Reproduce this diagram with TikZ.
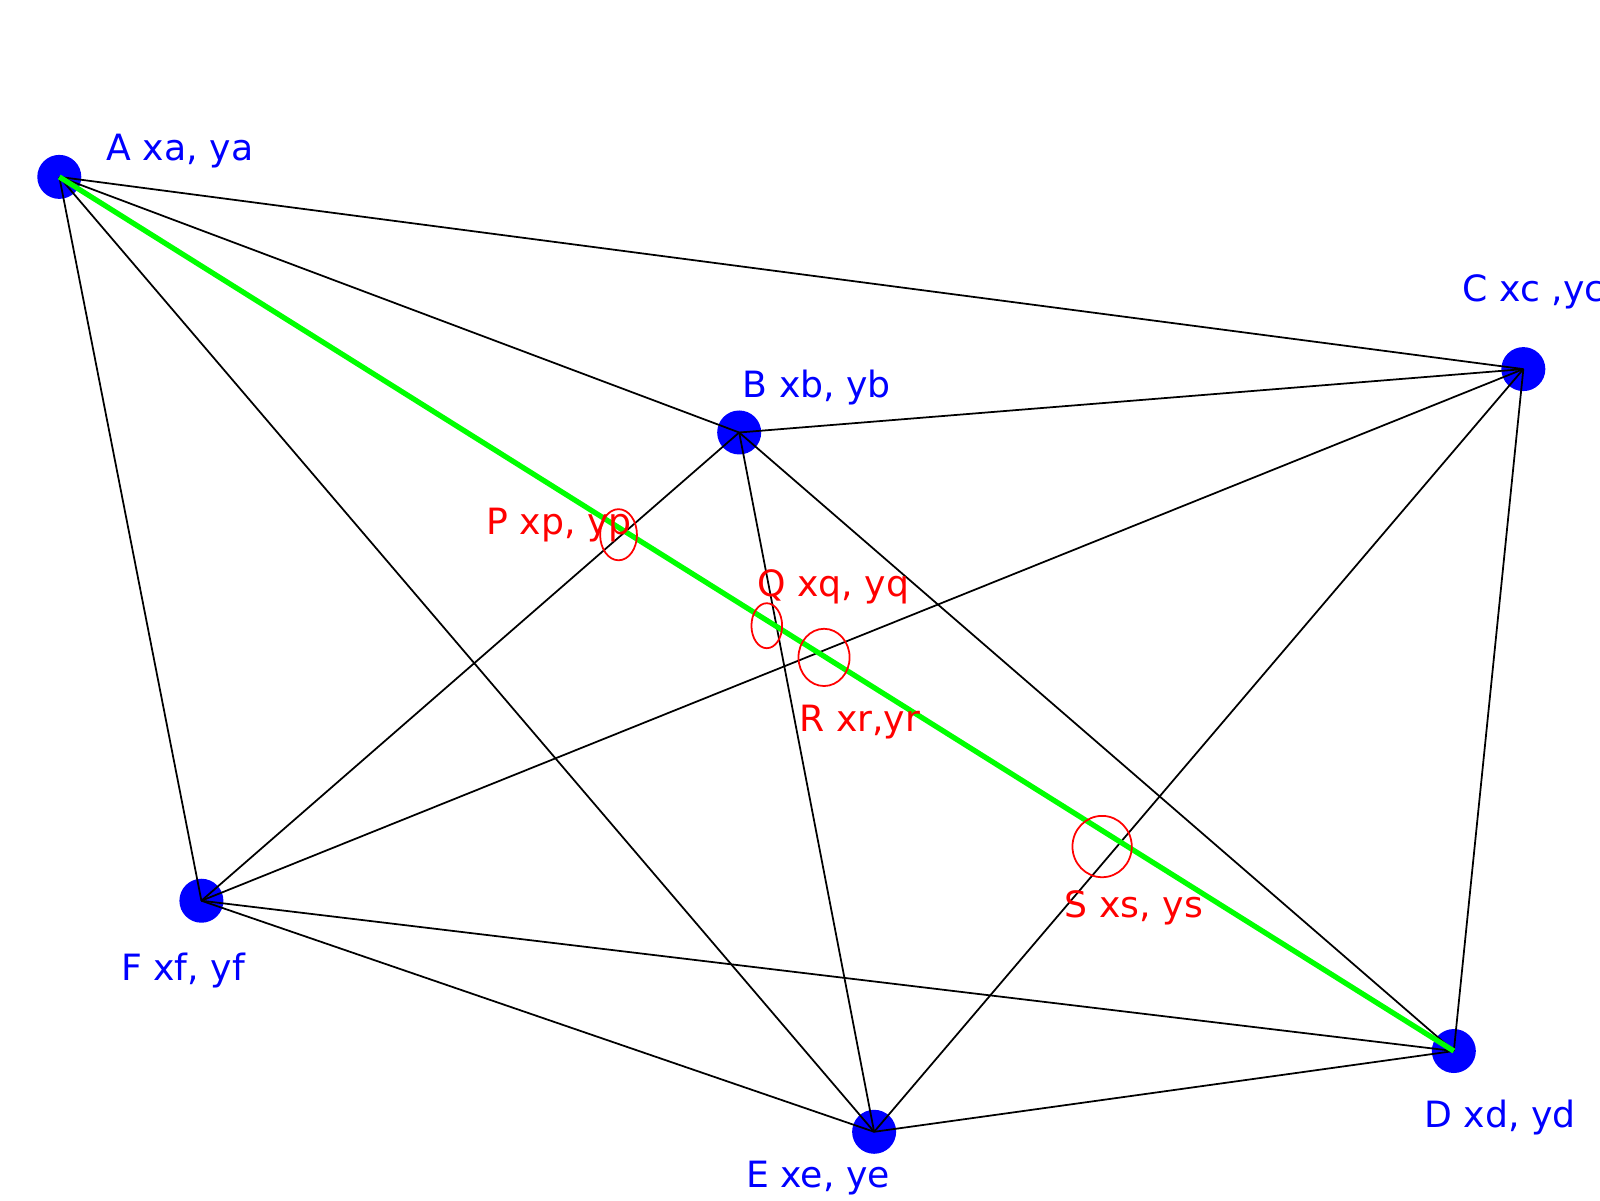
\documentclass[tikz,border=0pt]{standalone}
\usepackage{fontspec}
\setmainfont{DejaVu Sans}
\begin{document}
\begin{tikzpicture}[x=0.010224cm,y=-0.010224cm,
  pt/.style={circle,fill=blue,inner sep=0pt,minimum size=0.44cm},
  edge/.style={black,line width=0.5pt},
  lb/.style={text=blue,font=\fontsize{10.3}{12}\selectfont},
  rl/.style={text=red,font=\fontsize{10.3}{12}\selectfont},
  scr/.style={red,line width=0.5pt}]
\useasboundingbox (0,0) rectangle (1565,1174);
\node[pt] (A) at (58,173) {};
\node[pt] (B) at (723,423) {};
\node[pt] (C) at (1490,361) {};
\node[pt] (D) at (1422,1028) {};
\node[pt] (E) at (855,1107) {};
\node[pt] (F) at (197,881) {};
\foreach \a/\b in {A/C,A/B,A/F,A/E,B/C,B/F,B/E,B/D,C/F,C/E,C/D,F/D,F/E,E/D}
  \draw[edge] (\a.center) -- (\b.center);
\draw[green,line width=1.5pt] (A.center) -- (D.center);
\node[lb] (la) at (176,148) {A xa, ya};
\node[lb] (lbb) at (799,379) {B xb, yb};
\node[lb] (lc) at (1500,285) {C xc ,yc};
\node[lb] (ld) at (1467,1093) {D xd, yd};
\node[lb] (le) at (800,1152) {E xe, ye};
\node[lb] (lf) at (179,949) {F xf, yf};
\node[rl] (p) at (547,514) {P xp, yp};
\node[rl] (q) at (815,574) {Q xq, yq};
\node[rl] (r) at (841,706) {R xr,yr};
\node[rl] (s) at (1109,888) {S xs, ys};
\draw[scr] (605,523) ellipse [x radius=18,y radius=25];
\draw[scr] (750,612) ellipse [x radius=15,y radius=22];
\draw[scr] (806,643) ellipse [x radius=25,y radius=28];
\draw[scr] (1078,828) ellipse [x radius=29,y radius=30];
\end{tikzpicture}
\end{document}
